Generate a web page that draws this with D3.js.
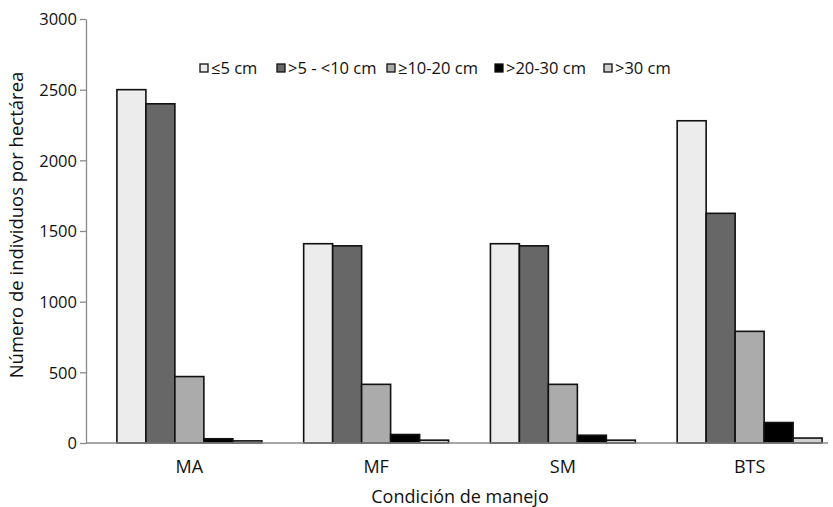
<!DOCTYPE html>
<html>
<head>
<meta charset="utf-8">
<script src="https://cdn.jsdelivr.net/npm/d3@7"></script>
<style>
  body { margin: 0; background: #fff; }
  text { font-family: "Open Sans", "Noto Sans", sans-serif; fill: #111; }
  .axis path, .axis line { stroke: #8a8a8a; stroke-width: 1.3; }
  .axis text { font-size: 16.5px; }
</style>
</head>
<body>
<div id="chart"></div>
<script>
const categories = ["MA", "MF", "SM", "BTS"];
const series = ["\u22645 cm", ">5 - <10 cm", "\u226510-20 cm", ">20-30 cm", ">30 cm"];
const valuesMA = [2500, 2400, 470, 30, 15];
const valuesMF = [1410, 1395, 415, 60, 20];
const valuesSM = [1410, 1395, 415, 55, 20];
const valuesBTS = [2280, 1625, 790, 145, 35];
const yTicks = [0, 500, 1000, 1500, 2000, 2500, 3000];
const colors = ["#ececec", "#676767", "#ababab", "#000000", "#cfcfcf"];

const svgWidth = 833, svgHeight = 507;
const margin = {top: 19, right: 0, bottom: 64, left: 86};
const height = svgHeight - margin.top - margin.bottom;

document.addEventListener("DOMContentLoaded", function(){ drawChart(); });

function drawChart(){
  const rows = [valuesMA, valuesMF, valuesSM, valuesBTS];

  const svg = d3.select("#chart").append("svg")
      .attr("width", svgWidth).attr("height", svgHeight)
    .append("g")
      .attr("transform", "translate(" + margin.left + "," + margin.top + ")");

  const x0 = d3.scaleBand().domain(categories).range([10, 757]).paddingInner(0.224).paddingOuter(0.112);
  const x1 = d3.scaleBand().domain(series).range([0, x0.bandwidth()]);
  const y = d3.scaleLinear().domain([0, 3000]).range([height, 0]);

  // y axis
  svg.append("g").attr("class", "axis")
    .call(d3.axisLeft(y).tickValues(yTicks).tickFormat(d3.format("d")).tickSize(6).tickPadding(3).tickSizeOuter(0))
    .call(g => g.selectAll("text").attr("dy", "0.36em"));

  // bars
  categories.forEach(function(c, i){
    svg.append("g")
      .attr("transform", "translate(" + x0(c) + ",0)")
      .selectAll("rect")
      .data(rows[i])
      .enter().append("rect")
        .attr("x", (d, j) => x1(series[j]))
        .attr("y", d => y(d))
        .attr("width", x1.bandwidth())
        .attr("height", d => y(0) - y(d))
        .attr("fill", (d, j) => colors[j])
        .attr("stroke", "#111")
        .attr("stroke-width", 1.6);
  });

  // x axis
  svg.append("line")
    .attr("x1", 0).attr("x2", 742)
    .attr("y1", height).attr("y2", height)
    .attr("stroke", "#8a8a8a").attr("stroke-width", 1.3);

  svg.selectAll(".xlab").data(categories).enter().append("text")
    .attr("x", d => x0(d) + x0.bandwidth() / 2)
    .attr("y", height + 30)
    .attr("text-anchor", "middle")
    .attr("font-size", 18)
    .text(d => d);

  // titles
  svg.append("text")
    .attr("transform", "translate(-63," + (height / 2 - 6) + ")rotate(-90)")
    .attr("text-anchor", "middle")
    .attr("font-size", 18.5)
    .text("Número de individuos por hectárea");

  svg.append("text")
    .attr("x", 374).attr("y", height + 60)
    .attr("text-anchor", "middle")
    .attr("font-size", 18)
    .text("Condición de manejo");

  // legend
  const legendX = [114, 191, 301, 409, 518];
  const legend = svg.append("g").attr("transform", "translate(0,49)");
  series.forEach(function(s, j){
    const g = legend.append("g").attr("transform", "translate(" + legendX[j] + ",0)");
    g.append("rect").attr("x", 0).attr("y", -4).attr("width", 8).attr("height", 8)
      .attr("fill", colors[j]).attr("stroke", "#111").attr("stroke-width", 1.3);
    g.append("text").attr("x", 11).attr("y", 0).attr("dy", "0.35em")
      .attr("font-size", 16.5).text(s);
  });
}
</script>
</body>
</html>
